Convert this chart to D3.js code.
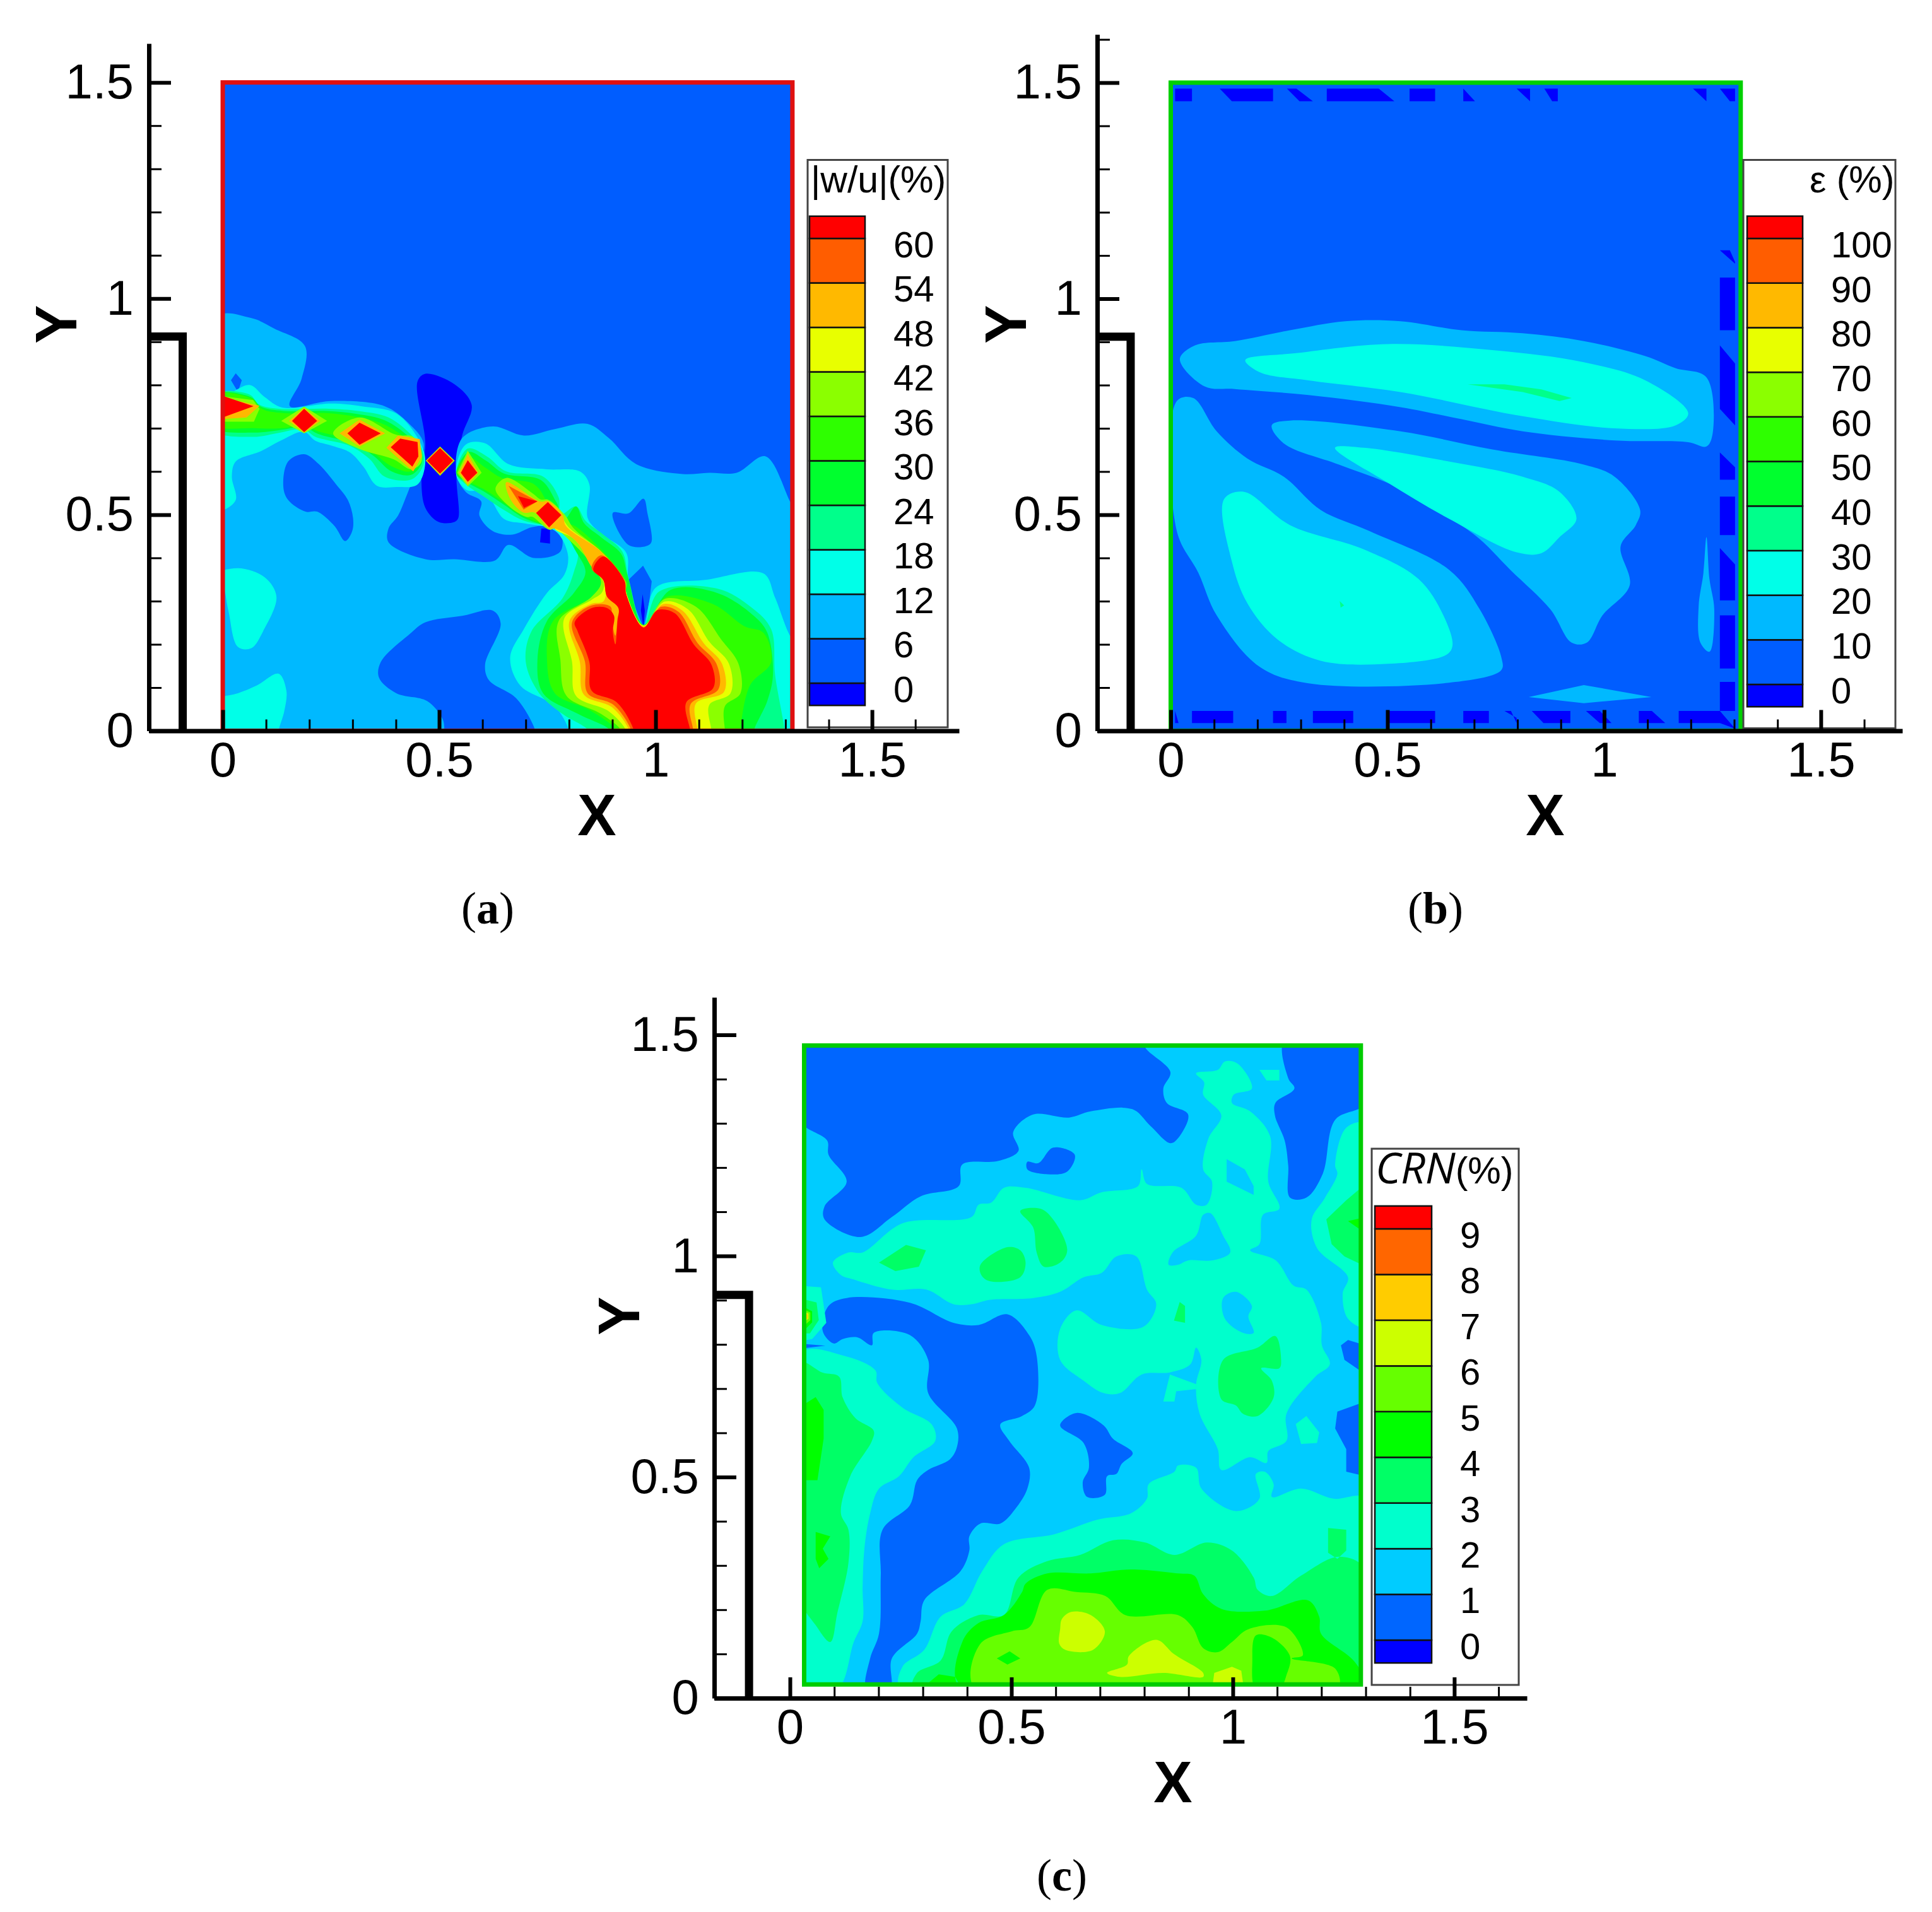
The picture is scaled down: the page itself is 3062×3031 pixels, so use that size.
<!DOCTYPE html>
<html>
<head>
<meta charset="utf-8">
<style>
  html, body { margin: 0; padding: 0; background: #fff; }
  text { font-family: "Liberation Sans", Arial, sans-serif; fill: #000; }
</style>
<script src="https://cdn.jsdelivr.net/npm/d3@7"></script>
</head>
<body>
<svg id="chart" width="3062" height="3031"></svg>
<script>
// wall outline, shared by the three panels
const wallX = [-0.17, -0.0925, -0.0925];
const wallY = [0.912, 0.912, 0];
const xMajor = [0, 0.5, 1, 1.5];
const yMajor = [0, 0.5, 1, 1.5];
const xTickLabels = ['0', '0.5', '1', '1.5'];
const minorTicks = [0.1, 0.2, 0.3, 0.4, 0.6, 0.7, 0.8, 0.9, 1.1, 1.2, 1.3, 1.4, 1.6];

const levelsA = [0, 6, 12, 18, 24, 30, 36, 42, 48, 54, 60];
const levelsB = [0, 10, 20, 30, 40, 50, 60, 70, 80, 90, 100];
const levelsC = [0, 1, 2, 3, 4, 5, 6, 7, 8, 9];
const colorsAB = ['#0000ff', '#005dff', '#00b9ff', '#00ffe8', '#00ff8b', '#00ff2e', '#2eff00', '#8bff00', '#e8ff00', '#ffb900', '#ff5d00', '#ff0000'];
const colorsC = ['#0000ff', '#0066ff', '#00ccff', '#00ffcc', '#00ff66', '#00ff00', '#66ff00', '#ccff00', '#ffcc00', '#ff6600', '#ff0000'];

// everything outside a hole counts as being above the level
const everything = [[-0.2, -0.2], [1.8, -0.2], [1.8, 1.8], [-0.2, 1.8]];

// panel (a), |w/u| contour rings in X,Y per level
const aLevel0 = [everything,
  [[.468,.826],[.535,.802],[.575,.754],[.553,.683],[.54,.594],[.544,.492],[.535,.483],[.499,.483],[.468,.516],[.459,.588],[.468,.665],[.45,.808]],
  [[.736,.468],[.756,.468],[.756,.433],[.733,.436]],
  [[.97,.316],[.975,.278],[.972,.239],[.966,.278]]];
const aLevel6 = [
  [[-.02,.955],[.065,.955],[.12,.93],[.19,.89],[.182,.814],[.155,.751],[.25,.763],[.374,.751],[.428,.713],[.464,.665],[.45,.611],[.423,.54],[.405,.498],[.383,.468],[.383,.436],[.468,.397],[.535,.397],[.629,.394],[.66,.43],[.718,.4],[.78,.415],[.78,.462],[.758,.474],[.714,.471],[.669,.454],[.624,.462],[.593,.498],[.597,.531],[.562,.552],[.54,.594],[.553,.677],[.624,.704],[.696,.683],[.767,.698],[.843,.71],[.892,.677],[.955,.617],[1.062,.594],[1.124,.597],[1.187,.597],[1.254,.635],[1.312,.528],[1.33,.5],[1.33,-.02],[.722,-.02],[.722,0],[.678,.075],[.615,.117],[.606,.153],[.642,.248],[.624,.278],[.553,.266],[.468,.251],[.432,.224],[.365,.159],[.361,.123],[.401,.087],[.472,.069],[.508,.027],[.512,0],[.512,-.02],[-.02,-.02]],
  [[.188,.64],[.222,.617],[.262,.57],[.289,.534],[.301,.492],[.299,.462],[.283,.439],[.258,.474],[.218,.507],[.191,.507],[.151,.534],[.14,.564],[.151,.623]],
  [[.03,.827],[.044,.811],[.035,.784],[.019,.811]],
  [[.972,.537],[.981,.504],[.99,.436],[.977,.427],[.937,.43],[.901,.504],[.937,.503]],
  [[.971,.382],[.991,.346],[.985,.296],[.972,.239],[.941,.313],[.937,.349]]];
const aLevel12 = [
  [[-.02,.78],[.008,.778],[.062,.8],[.097,.772],[.137,.748],[.25,.757],[.32,.751],[.401,.734],[.454,.671],[.468,.623],[.45,.57],[.401,.564],[.356,.567],[.325,.611],[.294,.644],[.254,.659],[.214,.671],[.187,.692],[.133,.671],[.088,.647],[.03,.623],[.021,.588],[.03,.534],[0,.51],[-.02,.51]],
  [[.539,.594],[.561,.662],[.606,.665],[.66,.617],[.749,.605],[.825,.6],[.847,.57],[.843,.492],[.874,.456],[.932,.412],[.937,.349],[.972,.239],[1,.331],[1.115,.349],[1.249,.364],[1.276,.308],[1.312,.218],[1.33,.2],[1.33,-.02],[.8,-.02],[.8,0],[.767,.057],[.687,.105],[.664,.17],[.696,.236],[.749,.319],[.789,.361],[.798,.403],[.78,.45],[.758,.468],[.696,.48],[.65,.49],[.606,.552],[.562,.558]],
  [[.035,.376],[.097,.355],[.124,.31],[.093,.23],[.066,.191],[.035,.194],[.013,.278],[0,.337],[-.02,.36]],
  [[-.02,-.02],[.129,-.02],[.129,0],[.142,.045],[.147,.093],[.129,.132],[.079,.105],[.035,.087],[0,.08],[-.02,.08]]];
const aLevel18 = [
  [[-.02,.778],[.062,.778],[.084,.755],[.129,.745],[.245,.745],[.312,.74],[.383,.725],[.437,.683],[.459,.653],[.464,.617],[.437,.582],[.374,.588],[.339,.629],[.294,.659],[.214,.68],[.187,.698],[.133,.69],[.07,.68],[-.02,.695]],
  [[.54,.594],[.566,.653],[.61,.635],[.655,.6],[.74,.588],[.776,.54],[.78,.5],[.816,.519],[.838,.486],[.879,.454],[.923,.415],[.937,.355],[.972,.242],[1.008,.322],[1.142,.329],[1.222,.285],[1.267,.235],[1.276,.129],[1.298,0],[1.298,-.02],[.845,-.02],[.845,0],[.785,.039],[.731,.087],[.7,.159],[.713,.23],[.785,.307],[.811,.367],[.82,.415],[.785,.468],[.767,.472],[.696,.486],[.651,.51],[.606,.54],[.562,.57]]];
const aLevel24 = [
  [[-.02,.778],[.065,.772],[.088,.75],[.14,.74],[.24,.74],[.31,.733],[.375,.718],[.43,.68],[.458,.645],[.46,.62],[.435,.592],[.39,.6],[.35,.635],[.3,.665],[.22,.687],[.187,.703],[.14,.697],[.07,.69],[-.02,.702]],
  [[.54,.594],[.568,.645],[.608,.625],[.65,.595],[.735,.58],[.77,.53],[.79,.49],[.816,.519],[.835,.48],[.875,.447],[.92,.41],[.935,.36],[.972,.245],[1.035,.326],[1.142,.319],[1.227,.266],[1.258,.227],[1.271,.129],[1.258,.069],[1.227,0],[1.227,-.02],[.896,-.02],[.896,0],[.821,.039],[.74,.087],[.727,.164],[.749,.254],[.811,.319],[.838,.367],[.816,.415],[.785,.462],[.767,.468],[.696,.492],[.651,.522],[.606,.552],[.562,.576]]];
const aLevel30 = [
  [[-.02,.778],[.068,.768],[.09,.745],[.14,.735],[.24,.735],[.31,.726],[.37,.71],[.425,.675],[.455,.64],[.455,.62],[.435,.6],[.39,.612],[.345,.645],[.3,.672],[.22,.693],[.187,.708],[.14,.7],[.07,.7],[-.02,.708]],
  [[.54,.596],[.565,.635],[.605,.61],[.645,.585],[.72,.57],[.755,.52],[.785,.48],[.811,.475],[.874,.42],[.925,.36],[.935,.34],[.932,.32],[.972,.245],[1.026,.31],[1.133,.293],[1.205,.242],[1.249,.227],[1.267,.159],[1.218,.105],[1.196,0],[1.196,-.02],[.91,-.02],[.91,0],[.847,.048],[.767,.087],[.749,.164],[.763,.254],[.874,.322],[.874,.349],[.838,.403],[.798,.456],[.76,.47],[.696,.497],[.651,.527],[.606,.557],[.562,.58]]];
const aLevel36 = [
  [[-.02,.777],[.07,.765],[.085,.745],[.072,.715],[-.02,.715]],
  [[.188,.75],[.241,.717],[.188,.688],[.135,.717]],
  [[.316,.725],[.4,.685],[.44,.68],[.458,.65],[.458,.62],[.435,.605],[.395,.628],[.316,.652],[.255,.688]],
  [[.502,.658],[.536,.625],[.502,.59],[.469,.625]],
  [[.566,.648],[.598,.597],[.566,.565],[.542,.597]],
  [[.79,.5],[.811,.468],[.874,.415],[.919,.361],[.932,.343],[.932,.32],[.972,.244],[1.021,.305],[1.093,.287],[1.151,.212],[1.191,.156],[1.196,.087],[1.16,.057],[1.16,0],[1.16,-.02],[.921,-.02],[.921,0],[.874,.039],[.794,.081],[.78,.164],[.776,.254],[.852,.31],[.874,.343],[.843,.397],[.803,.439],[.767,.468],[.754,.465],[.715,.495],[.7,.495],[.655,.525],[.63,.56],[.655,.585],[.715,.55],[.735,.535],[.751,.535]]];
const aLevel42 = [
  [[.767,.468],[.78,.495],[.8,.47],[.874,.415],[.925,.352],[.932,.32],[.972,.243],[1.021,.299],[1.075,.281],[1.124,.206],[1.169,.156],[1.173,.087],[1.124,.06],[1.129,0],[1.129,-.02],[.932,-.02],[.932,0],[.892,.045],[.816,.081],[.807,.159],[.789,.26],[.852,.303],[.876,.32],[.88,.343],[.85,.39],[.81,.445]]];
const aLevel48 = [
  [[-.02,.776],[.085,.752],[.055,.725],[-.02,.72]],
  [[.188,.747],[.225,.717],[.188,.69],[.153,.717]],
  [[.316,.72],[.375,.688],[.316,.658],[.27,.688]],
  [[.405,.683],[.455,.675],[.46,.635],[.44,.6],[.378,.655]],
  [[.502,.656],[.534,.625],[.502,.592],[.47,.625]],
  [[.566,.64],[.59,.597],[.566,.57],[.546,.597]],
  [[.754,.468],[.72,.505],[.695,.505],[.665,.535],[.655,.575],[.735,.53],[.751,.532],[.785,.5],[.793,.474],[.874,.415],[.923,.355],[.932,.316],[.972,.242],[1.017,.293],[1.062,.278],[1.111,.203],[1.153,.156],[1.158,.09],[1.093,.063],[1.097,0],[1.097,-.02],[.939,-.02],[.939,0],[.9,.054],[.834,.084],[.825,.159],[.801,.254],[.852,.294],[.879,.299],[.884,.337],[.852,.379],[.816,.439],[.767,.468]]];
const aLevel54 = [
  [[.66,.567],[.727,.531],[.695,.512]],
  [[.724,.504],[.751,.529],[.782,.499],[.754,.471]],
  [[.874,.406],[.928,.349],[.932,.316],[.972,.239],[1.013,.287],[1.053,.275],[1.097,.203],[1.14,.156],[1.145,.096],[1.081,.062],[1.087,0],[1.087,-.02],[.944,-.02],[.944,0],[.903,.06],[.843,.087],[.837,.159],[.807,.251],[.852,.29],[.896,.287],[.898,.26],[.907,.22],[.912,.26],[.916,.287],[.888,.31],[.879,.349],[.852,.376]]];
const aLevel60 = [
  [[-.02,.775],[0,.775],[.071,.751],[0,.725],[-.02,.725]],
  [[.188,.745],[.218,.717],[.188,.691],[.16,.717]],
  [[.316,.713],[.365,.688],[.316,.662],[.288,.688]],
  [[.41,.676],[.45,.668],[.452,.635],[.438,.611],[.388,.656]],
  [[.502,.654],[.532,.625],[.502,.595],[.472,.625]],
  [[.566,.626],[.588,.597],[.566,.576],[.55,.597]],
  [[.682,.543],[.727,.531],[.696,.516]],
  [[.724,.504],[.751,.529],[.782,.499],[.754,.471]],
  [[.879,.403],[.928,.346],[.932,.316],[.972,.239],[1.004,.279],[1.044,.272],[1.088,.2],[1.129,.153],[1.133,.099],[1.071,.066],[1.08,0],[1.08,-.02],[.95,-.02],[.95,0],[.91,.066],[.852,.093],[.847,.159],[.82,.23],[.813,.251],[.852,.284],[.888,.284],[.904,.266],[.901,.23],[.907,.2],[.912,.254],[.914,.284],[.888,.31],[.879,.349],[.856,.373]]];

// panel (b), epsilon contour rings
const bLevel0 = [everything,
  [[.01,1.486],[.049,1.486],[.049,1.457],[.01,1.457]],
  [[.113,1.486],[.236,1.486],[.236,1.457],[.141,1.457]],
  [[.268,1.486],[.29,1.486],[.328,1.457],[.297,1.457]],
  [[.36,1.486],[.48,1.486],[.516,1.457],[.36,1.457]],
  [[.551,1.486],[.61,1.486],[.61,1.457],[.551,1.457]],
  [[.675,1.486],[.702,1.457],[.675,1.457]],
  [[.798,1.486],[.829,1.486],[.829,1.457]],
  [[.862,1.486],[.893,1.486],[.893,1.457],[.88,1.457]],
  [[1.205,1.486],[1.236,1.486],[1.236,1.457]],
  [[1.267,1.486],[1.302,1.486],[1.302,1.457],[1.29,1.457]],
  [[.01,.046],[.018,.018],[.01,.018]],
  [[.049,.046],[.144,.046],[.144,.018],[.049,.018]],
  [[.236,.046],[.267,.046],[.267,.018],[.236,.018]],
  [[.328,.046],[.421,.046],[.421,.018],[.328,.018]],
  [[.504,.046],[.61,.046],[.61,.018],[.504,.018]],
  [[.675,.046],[.734,.046],[.734,.018],[.675,.018]],
  [[.77,.046],[.785,.046],[.798,.018],[.798,.03]],
  [[.833,.046],[.922,.046],[.922,.018],[.86,.018]],
  [[.958,.046],[.99,.046],[1.017,.018],[.99,.018]],
  [[1.08,.046],[1.11,.046],[1.141,.018],[1.08,.018]],
  [[1.172,.046],[1.267,.046],[1.302,.005],[1.267,.018],[1.172,.018]],
  [[1.267,1.112],[1.29,1.112],[1.302,1.085],[1.302,1.081]],
  [[1.267,1.049],[1.302,1.049],[1.302,.927],[1.267,.927]],
  [[1.267,.892],[1.302,.85],[1.302,.707],[1.267,.745]],
  [[1.267,.644],[1.302,.61],[1.302,.581],[1.267,.581]],
  [[1.267,.542],[1.302,.542],[1.302,.453],[1.267,.453]],
  [[1.267,.423],[1.302,.385],[1.302,.302],[1.267,.302]],
  [[1.267,.267],[1.302,.267],[1.302,.144],[1.267,.144]],
  [[1.267,.113],[1.302,.113],[1.302,.046],[1.267,.046]]];
const bLevel10 = [
  [[.021,.86],[.056,.892],[.148,.902],[.275,.927],[.403,.948],[.53,.948],[.671,.927],[.812,.92],[.953,.902],[1.095,.867],[1.165,.839],[1.236,.818],[1.25,.686],[1.236,.658],[1.194,.668],[1.025,.672],[.812,.693],[.671,.721],[.53,.749],[.318,.777],[.148,.791],[.078,.797]],
  [[.014,.763],[.052,.77],[.106,.693],[.177,.63],[.261,.588],[.346,.511],[.459,.462],[.643,.372],[.713,.281],[.763,.169],[.763,.141],[.657,.113],[.318,.11],[.205,.148],[.106,.267],[.064,.365],[.014,.462]],
  [[.233,.707],[.275,.718],[.53,.693],[.742,.651],[.953,.616],[1.024,.588],[1.083,.511],[1.073,.476],[1.038,.427],[1.059,.337],[.996,.267],[.96,.204],[.925,.204],[.876,.281],[.784,.372],[.699,.455],[.53,.56],[.388,.616],[.261,.665]],
  [[1.236,.448],[1.243,.351],[1.254,.281],[1.243,.183],[1.222,.204],[1.218,.288],[1.229,.365]],
  [[.826,.078],[.953,.106],[1.109,.078],[.953,.064]]];
const bLevel20 = [
  [[.172,.858],[.29,.874],[.501,.895],[.742,.881],[.953,.853],[1.095,.811],[1.194,.735],[1.165,.707],[1.024,.7],[.812,.728],[.53,.784],[.318,.811],[.205,.83]],
  [[.379,.655],[.445,.655],[.643,.623],[.812,.588],[.897,.553],[.936,.49],[.897,.448],[.855,.411],[.798,.413],[.643,.49],[.501,.574]],
  [[.123,.536],[.169,.553],[.275,.476],[.445,.42],[.572,.351],[.629,.267],[.65,.197],[.636,.176],[.501,.155],[.346,.162],[.247,.211],[.177,.295],[.141,.392]]];
const bLevel30 = [
  [[.685,.802],[.77,.802],[.855,.79],[.925,.77],[.897,.763],[.812,.784]],
  [[.39,.3],[.4,.29],[.392,.285]]];

// panel (c), CRN contour rings
const cLevel0 = [everything];
const cLevel1 = [everything,
  [[.02,1.49],[.802,1.49],[.802,1.472],[.859,1.416],[.843,1.379],[.851,1.346],[.899,1.32],[.876,1.266],[.859,1.255],[.814,1.294],[.773,1.332],[.679,1.327],[.63,1.313],[.549,1.32],[.504,1.28],[.516,1.238],[.471,1.215],[.389,1.207],[.381,1.158],[.295,1.135],[.23,1.088],[.16,1.043],[.078,1.083],[.078,1.112],[.128,1.168],[.087,1.229],[.084,1.261],[.02,1.308]],
  [[1.117,1.49],[1.125,1.402],[1.139,1.379],[1.096,1.346],[1.095,1.318],[1.117,1.261],[1.125,1.205],[1.129,1.132],[1.166,1.132],[1.203,1.186],[1.231,1.308],[1.3,1.346],[1.3,1.49]],
  [[.536,1.213],[.561,1.21],[.594,1.245],[.643,1.229],[.626,1.191],[.581,1.185],[.536,1.196]],
  [[.087,.887],[.128,.905],[.271,.894],[.369,.849],[.426,.844],[.491,.868],[.54,.821],[.557,.774],[.553,.662],[.524,.638],[.475,.619],[.495,.582],[.54,.521],[.536,.474],[.508,.427],[.475,.395],[.43,.395],[.405,.366],[.405,.334],[.385,.287],[.303,.221],[.295,.174],[.287,.146],[.23,.09],[.226,.02],[.173,.02],[.181,.09],[.201,.146],[.205,.277],[.209,.381],[.271,.437],[.287,.493],[.312,.516],[.361,.54],[.377,.568],[.377,.61],[.312,.69],[.312,.765],[.271,.821],[.189,.826],[.185,.798],[.152,.816],[.119,.812],[.099,.802],[.074,.83]],
  [[.02,.802],[.08,.797],[.02,.79]],
  [[.61,.617],[.647,.645],[.708,.617],[.729,.587],[.774,.554],[.749,.53],[.737,.507],[.716,.502],[.711,.46],[.671,.455],[.661,.488],[.675,.521],[.663,.577]],
  [[1.244,.798],[1.26,.81],[1.3,.798],[1.3,.732],[1.252,.765]],
  [[1.236,.648],[1.3,.671],[1.3,.502],[1.256,.512],[1.256,.563],[1.231,.61]]];
const cLevel2 = [
  [[.097,.985],[.132,1.008],[.164,1.008],[.254,1.074],[.41,1.088],[.426,1.116],[.455,1.121],[.483,1.154],[.532,1.154],[.655,1.126],[.704,1.144],[.786,1.158],[.794,1.196],[.806,1.163],[.884,1.154],[.917,1.116],[.941,1.116],[.953,1.168],[.933,1.196],[.945,1.266],[.974,1.318],[.933,1.365],[.935,1.393],[.917,1.413],[.966,1.421],[.982,1.44],[1.011,1.435],[1.043,1.379],[1.002,1.365],[.998,1.346],[1.039,1.327],[1.084,1.271],[1.08,1.168],[1.105,1.107],[1.068,1.093],[1.06,1.027],[1.039,1.013],[1.097,.99],[1.137,.933],[1.166,.924],[1.199,.849],[1.201,.798],[1.219,.755],[1.186,.727],[1.121,.643],[1.121,.582],[1.08,.559],[1.076,.532],[1.039,.545],[.974,.516],[.966,.563],[.925,.643],[.917,.709],[.929,.765],[.917,.793],[.904,.755],[.859,.737],[.794,.732],[.745,.69],[.708,.69],[.663,.718],[.61,.765],[.61,.835],[.647,.877],[.704,.844],[.798,.84],[.827,.891],[.806,.924],[.782,.999],[.737,.999],[.704,.962],[.663,.952],[.61,.919],[.549,.905],[.451,.901],[.41,.891],[.369,.891],[.308,.924],[.23,.924],[.14,.948],[.115,.957]],
  [[.986,1.219],[1.027,1.196],[1.047,1.158],[1.047,1.138],[.986,1.168]],
  [[.855,.98],[.864,1.008],[.917,1.046],[.933,1.093],[.949,1.097],[.978,1.046],[.994,1.008],[.954,.99],[.9,.99],[.876,.98]],
  [[.978,.905],[1.007,.919],[1.043,.887],[1.035,.863],[1.047,.826],[1.023,.826],[.982,.858]],
  [[.858,.732],[.917,.71],[.917,.699],[.872,.694],[.868,.671],[.843,.671]],
  [[1.142,.62],[1.166,.638],[1.195,.601],[1.19,.577],[1.154,.575]],
  [[.25,.02],[.254,.071],[.303,.109],[.34,.184],[.393,.212],[.434,.287],[.483,.348],[.598,.371],[.696,.404],[.77,.418],[.806,.451],[.81,.484],[.868,.512],[.876,.526],[.917,.521],[.929,.474],[1.007,.423],[1.06,.451],[1.052,.507],[1.072,.512],[1.092,.484],[1.088,.455],[1.154,.474],[1.227,.451],[1.3,.451],[1.3,.02]],
  [[.02,.779],[.123,.774],[.193,.741],[.197,.713],[.254,.657],[.32,.619],[.328,.582],[.279,.545],[.246,.502],[.201,.474],[.181,.418],[.168,.338],[.164,.249],[.164,.174],[.144,.127],[.107,.02],[.02,.02]],
  [[1.3,1.299],[1.256,1.29],[1.231,1.205],[1.236,1.186],[1.207,1.13],[1.178,1.083],[1.19,1.018],[1.26,.952],[1.248,.915],[1.26,.858],[1.3,.84]],
  [[1.06,1.421],[1.105,1.421],[1.105,1.397],[1.076,1.397]],
  [[.02,.933],[.07,.929],[.082,.849],[.05,.812],[.02,.807]]];
const cLevel3 = [
  [[.201,.985],[.262,1.025],[.307,1.013],[.291,.976],[.238,.966]],
  [[.43,.98],[.491,1.02],[.52,1.013],[.532,.985],[.52,.952],[.451,.943],[.432,.957]],
  [[.52,1.102],[.565,1.107],[.594,1.083],[.626,1.013],[.61,.985],[.573,.976],[.557,1.008],[.549,1.065]],
  [[.88,.896],[.892,.887],[.892,.849],[.867,.854]],
  [[.978,.765],[1.056,.793],[1.096,.819],[1.109,.765],[1.105,.746],[1.064,.746],[1.088,.718],[1.092,.68],[1.056,.638],[1.023,.643],[1.007,.662],[.974,.676]],
  [[1.211,1.083],[1.256,1.126],[1.3,1.163],[1.3,.976],[1.252,.999],[1.223,1.027]],
  [[1.215,.385],[1.256,.381],[1.256,.334],[1.236,.315],[1.215,.329]],
  [[.02,.76],[.074,.736],[.111,.727],[.119,.68],[.148,.633],[.189,.605],[.185,.582],[.136,.502],[.115,.418],[.132,.381],[.132,.306],[.107,.193],[.091,.127],[.058,.165],[.02,.231]],
  [[.279,.02],[.287,.057],[.34,.085],[.365,.151],[.426,.188],[.483,.188],[.516,.273],[.581,.31],[.655,.324],[.729,.357],[.802,.352],[.868,.324],[.941,.352],[.998,.334],[1.047,.273],[1.056,.245],[1.088,.231],[1.154,.277],[1.24,.32],[1.3,.291],[1.3,.02]],
  [[.02,.905],[.06,.895],[.065,.855],[.045,.825],[.02,.825]]];
const cLevel4 = [
  [[.02,.657],[.058,.681],[.076,.652],[.076,.587],[.062,.493],[.02,.493]],
  [[.058,.376],[.091,.366],[.074,.338],[.087,.315],[.066,.294],[.058,.315]],
  [[1.26,1.079],[1.3,1.088],[1.3,1.051]],
  [[.385,.02],[.389,.127],[.426,.17],[.483,.188],[.524,.24],[.532,.259],[.581,.282],[.679,.282],[.77,.291],[.876,.282],[.913,.277],[.933,.235],[.974,.202],[1.072,.198],[1.17,.221],[1.195,.184],[1.199,.146],[1.276,.081],[1.3,.02]],
  [[.295,.02],[.336,.054],[.373,.048],[.389,.02]],
  [[.02,.89],[.05,.875],[.05,.85],[.035,.835],[.02,.835]]];
const cLevel5 = [
  [[.418,.02],[.43,.123],[.5,.151],[.54,.16],[.581,.245],[.647,.24],[.712,.231],[.757,.188],[.876,.188],[.909,.16],[.933,.113],[.966,.104],[.998,.127],[1.035,.156],[1.121,.16],[1.158,.097],[1.133,.09],[1.231,.067],[1.236,.02]],
  [[1.052,.142],[1.088,.137],[1.129,.095],[1.121,.052],[1.105,.02],[1.052,.02],[1.044,.085]],
  [[.467,.09],[.496,.106],[.52,.09],[.491,.076]],
  [[.02,.885],[.046,.872],[.046,.855],[.03,.84],[.02,.84]]];
const cLevel6 = [
  [[.61,.156],[.614,.179],[.635,.195],[.679,.188],[.711,.151],[.684,.109],[.622,.109],[.608,.123]],
  [[.716,.057],[.761,.076],[.765,.095],[.827,.132],[.868,.099],[.933,.057],[.933,.048],[.843,.057],[.745,.048]],
  [[.953,.02],[.958,.057],[.998,.071],[1.019,.062],[1.025,.02]],
  [[.02,.88],[.042,.87],[.042,.858],[.03,.85],[.02,.85]]];
const cLevel7 = [
  [[.02,.873],[.04,.868],[.04,.858],[.02,.853]]];

const panels = [
  {
    left: 236, right: 1520, top: 69, bottom: 1158.5,
    xDomain: [-0.1706, 1.701], yDomain: [0, 1.59],
    field: [0, 1.316, 0, 1.5], border: '#e01010',
    rings: [aLevel0, aLevel6, aLevel12, aLevel18, aLevel24, aLevel30, aLevel36, aLevel42, aLevel48, aLevel54, aLevel60],
    colors: colorsAB, levels: levelsA,
    legend: { x: 1280, y: 253.5, w: 222, h: 899.5, barX: 1283, barW: 88, low: 1083, high: 378, labelX: 1416, titleX: 1285, titleY: 284 },
    title: [{ t: '|w/u|(%)' }],
    xTitle: 946, yTitle: 88, yTitleY: 514,
    caption: 'a', captionX: 773, captionY: 1441
  },
  {
    left: 1739, right: 3015, top: 54.5, bottom: 1158.5,
    xDomain: [-0.1696, 1.688], yDomain: [0, 1.6117],
    field: [0, 1.315, 0, 1.5], border: '#00d000',
    rings: [bLevel0, bLevel10, bLevel20, bLevel30],
    colors: colorsAB, levels: levelsB,
    legend: { x: 2763, y: 253.5, w: 241, h: 901, barX: 2769, barW: 88, low: 1085, high: 378, labelX: 2902, titleX: 2868, titleY: 284 },
    title: [{ t: 'ε (%)' }],
    xTitle: 2449, yTitle: 1593, yTitleY: 514,
    caption: 'b', captionX: 2275, captionY: 1441
  },
  {
    left: 1132, right: 2420, top: 1581, bottom: 2692,
    xDomain: [-0.171, 1.664], yDomain: [0, 1.585],
    field: [0.032, 1.289, 0.031, 1.476], border: '#00cc00',
    rings: [cLevel0, cLevel1, cLevel2, cLevel3, cLevel4, cLevel5, cLevel6, cLevel7],
    colors: colorsC, levels: levelsC,
    legend: { x: 2174, y: 1821, w: 233, h: 850, barX: 2179, barW: 90, low: 2600, high: 1948, labelX: 2314, titleX: 2180, titleY: 1855 },
    title: [{ t: 'CRN', italic: true }, { t: '(%)' }],
    xTitle: 1859, yTitle: 980, yTitleY: 2086,
    caption: 'c', captionX: 1683, captionY: 2974
  }
];

const svg = d3.select('#chart');

function drawPanel(p, idx) {
  const g = svg.append('g');
  const x = d3.scaleLinear().domain(p.xDomain).range([p.left, p.right]);
  const y = d3.scaleLinear().domain(p.yDomain).range([p.bottom, p.top]);
  const straight = d3.line().x((d) => x(d[0])).y((d) => y(d[1])).curve(d3.curveLinearClosed);
  const smooth = d3.line().x((d) => x(d[0])).y((d) => y(d[1])).curve(d3.curveCatmullRomClosed.alpha(0.5));
  // small rings are the diamonds and edge blocks, they keep their corners
  const ring = (r) => (r.length > 6 ? smooth(r) : straight(r));

  const [fx0, fx1, fy0, fy1] = p.field;
  const fieldRect = (sel) => sel
    .attr('x', x(fx0)).attr('y', y(fy1))
    .attr('width', x(fx1) - x(fx0)).attr('height', y(fy0) - y(fy1));

  g.append('clipPath').attr('id', `clip${idx}`).append('rect').call(fieldRect);

  const field = g.append('g').attr('clip-path', `url(#clip${idx})`);
  field.append('rect').call(fieldRect).attr('fill', p.colors[0]);
  // each level paints its band on top of the lower ones, evenodd gives the holes
  field.selectAll('path')
    .data(p.rings)
    .enter()
    .append('path')
    .attr('fill-rule', 'evenodd')
    .attr('fill', (d, i) => p.colors[i + 1])
    .attr('d', (rings) => rings.map((r) => ring(r)).join(''));

  g.append('rect').call(fieldRect)
    .attr('fill', 'none').attr('stroke', p.border).attr('stroke-width', 7);

  // legend
  const lg = p.legend;
  const step = p.levels[1] - p.levels[0];
  const ly = d3.scaleLinear()
    .domain([p.levels[0], p.levels[p.levels.length - 1]])
    .range([lg.low, lg.high]);
  g.append('rect')
    .attr('x', lg.x).attr('y', lg.y).attr('width', lg.w).attr('height', lg.h)
    .attr('fill', '#fff').attr('stroke', '#444').attr('stroke-width', 3);
  const edges = [p.levels[0] - step / 2, ...p.levels, p.levels[p.levels.length - 1] + step / 2];
  g.selectAll('.band')
    .data(p.colors)
    .enter()
    .append('rect')
    .attr('class', 'band')
    .attr('x', lg.barX).attr('width', lg.barW)
    .attr('y', (d, i) => ly(edges[i + 1]))
    .attr('height', (d, i) => ly(edges[i]) - ly(edges[i + 1]))
    .attr('fill', (d) => d)
    .attr('stroke', '#111').attr('stroke-width', 2.5);
  g.selectAll('.lvl')
    .data(p.levels)
    .enter()
    .append('text')
    .attr('class', 'lvl')
    .attr('x', lg.labelX)
    .attr('y', (d) => ly(d) + 9)
    .attr('dy', '0.36em')
    .style('font-size', '58px')
    .text((d) => d);
  const title = g.append('text')
    .attr('x', lg.titleX).attr('y', lg.titleY).attr('dy', '0.36em')
    .style('font-size', '59px');
  p.title.forEach((part) => {
    title.append('tspan')
      .style('font-style', part.italic ? 'italic' : 'normal')
      .style('font-family', part.italic ? '"Open Sans", sans-serif' : null)
      .style('font-size', part.italic ? '68px' : null)
      .text(part.t);
  });

  // wall
  const wall = d3.line().x((d) => x(d)).y((d, i) => y(wallY[i]));
  g.append('path')
    .attr('d', wall(wallX))
    .attr('fill', 'none').attr('stroke', '#000').attr('stroke-width', 13);

  // axes
  const xMinor = minorTicks.filter((v) => v < p.xDomain[1]);
  const yMinor = minorTicks.filter((v) => v < p.yDomain[1]);
  const minorX = g.append('g').attr('transform', `translate(0,${p.bottom})`)
    .call(d3.axisBottom(x).tickValues(xMinor).tickSize(-18).tickSizeOuter(0).tickFormat(''));
  const minorY = g.append('g').attr('transform', `translate(${p.left},0)`)
    .call(d3.axisLeft(y).tickValues(yMinor).tickSize(-20).tickSizeOuter(0).tickFormat(''));
  [minorX, minorY].forEach((a) => {
    a.select('.domain').remove();
    a.selectAll('line').attr('stroke', '#000').attr('stroke-width', 3);
  });

  const majorX = g.append('g').attr('transform', `translate(0,${p.bottom})`)
    .call(d3.axisBottom(x).tickValues(xMajor).tickSize(-33).tickSizeOuter(0).tickPadding(17)
      .tickFormat((d, i) => xTickLabels[i]));
  const majorY = g.append('g').attr('transform', `translate(${p.left},0)`)
    .call(d3.axisLeft(y).tickValues(yMajor).tickSize(-35).tickSizeOuter(0).tickPadding(24)
      .tickFormat((d, i) => xTickLabels[i]));
  [majorX, majorY].forEach((a) => {
    a.select('.domain').attr('stroke', '#000').attr('stroke-width', 7);
    a.selectAll('line').attr('stroke', '#000').attr('stroke-width', 6);
    a.selectAll('text').style('font-size', '78px')
      .style('font-family', '"Liberation Sans", Arial, sans-serif').attr('fill', '#000');
  });

  // axis titles
  g.append('text')
    .attr('x', p.xTitle).attr('y', p.bottom + 132)
    .attr('dy', '0.36em').attr('text-anchor', 'middle')
    .style('font-size', '92px').style('font-weight', 'bold')
    .text('X');
  g.append('text')
    .attr('transform', `translate(${p.yTitle},${p.yTitleY}) rotate(-90)`)
    .attr('dy', '0.36em').attr('text-anchor', 'middle')
    .style('font-size', '92px').style('font-weight', 'bold')
    .text('Y');

  // caption
  const cap = g.append('text')
    .attr('x', p.captionX).attr('y', p.captionY).attr('dy', '0.32em')
    .attr('text-anchor', 'middle')
    .style('font-family', '"Liberation Serif", serif').style('font-size', '72px');
  cap.append('tspan').text('(');
  cap.append('tspan').style('font-weight', 'bold').text(p.caption);
  cap.append('tspan').text(')');
}

panels.forEach(drawPanel);
</script>
</body>
</html>
